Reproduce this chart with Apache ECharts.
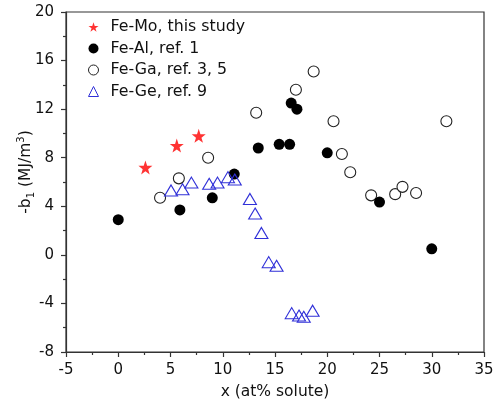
<!DOCTYPE html>
<html lang="en">
<head>
    <meta charset="UTF-8">
    <title>b1 vs solute</title>
    <script src="https://cdn.jsdelivr.net/npm/echarts@6/dist/echarts.min.js"></script>
    <style>
        html, body { margin: 0; padding: 0; background: #fff; }
        #main { width: 496px; height: 405px; }
    </style>
</head>
<body>
<div id="main"></div>
<script>
    // data: [x (at%), -b1 (MJ/m3)]
    var feMo = [[2.6, 7.2], [5.6, 9.0], [7.7, 9.8]];
    var feAl = [[0, 2.9], [5.9, 3.7], [9.0, 4.7], [11.1, 6.65], [13.4, 8.8], [15.4, 9.1],
        [16.4, 9.1], [16.55, 12.5], [17.1, 12.0], [20.0, 8.4], [25.0, 4.35], [30.0, 0.5]];
    var feGa = [[4.0, 4.7], [5.8, 6.3], [8.6, 8.0], [13.2, 11.7], [17.0, 13.6], [18.7, 15.1],
        [20.6, 11.0], [21.4, 8.3], [22.2, 6.8], [24.2, 4.9], [26.5, 5.0], [27.2, 5.6],
        [28.5, 5.1], [31.4, 11.0]];
    var feGe = [[5.05, 5.3], [6.15, 5.4], [7.0, 5.95], [8.7, 5.85], [9.5, 5.95], [10.5, 6.4],
        [11.15, 6.2], [12.6, 4.6], [13.1, 3.4], [13.7, 1.8], [14.4, -0.6], [15.15, -0.9],
        [16.6, -4.8], [17.3, -5.0], [17.75, -5.1], [18.6, -4.6]];
    var names = ['Fe-Mo, this study', 'Fe-Al, ref. 1', 'Fe-Ga, ref. 3, 5', 'Fe-Ge, ref. 9'];

    var font = 'DejaVu Sans, Arial, sans-serif';
    var chart = echarts.init(document.getElementById('main'));

    var axisCommon = {
        axisLine: { show: true, onZero: false, lineStyle: { color: '#333', width: 1.2 } },
        axisTick: { show: true, inside: false, length: 5, lineStyle: { color: '#333', width: 1.2 } },
        minorTick: { show: true, splitNumber: 2, length: 3, lineStyle: { color: '#333', width: 1.2 } },
        splitLine: { show: false },
        axisLabel: { fontFamily: font, fontSize: 15, color: '#111' },
        nameMoveOverlap: false
    };

    var option = {
        animation: false,
        backgroundColor: '#fff',
        grid: {
            left: 66, right: 12, top: 12, bottom: 53, outerBoundsMode: 'none', containLabel: false,
            show: true, borderColor: '#333', borderWidth: 1.2
        },
        legend: {
            orient: 'vertical',
            left: 83,
            top: 14,
            itemWidth: 10,
            itemHeight: 10,
            itemGap: 5.5,
            itemStyle: { borderWidth: 1 },
            textStyle: { fontFamily: font, fontSize: 15.8, color: '#111', padding: [0, 0, 0, 7] },
            data: names
        },
        xAxis: Object.assign({}, axisCommon, {
            type: 'value', min: -5, max: 35, interval: 5,
            axisLabel: Object.assign({}, axisCommon.axisLabel, { margin: 11 }),
            name: 'x (at% solute)',
            nameLocation: 'middle',
            nameGap: 32,
            nameTextStyle: { fontFamily: font, fontSize: 15.5, color: '#111' }
        }),
        yAxis: Object.assign({}, axisCommon, {
            type: 'value', min: -8, max: 20, interval: 4,
            axisLabel: Object.assign({}, axisCommon.axisLabel, { margin: 12 }),
            name: '{b|-b}{sub|1}{b| (MJ/m}{sup|3}{b|)}',
            nameLocation: 'middle',
            nameGap: 30,
            nameTextStyle: {
                padding: [0, 0, 0, 20],
                rich: {
                    b: { fontFamily: font, fontSize: 15.5, color: '#111', lineHeight: 20 },
                    sub: { fontFamily: font, fontSize: 10, color: '#111', verticalAlign: 'bottom', lineHeight: 20 },
                    sup: { fontFamily: font, fontSize: 10, color: '#111', verticalAlign: 'top', lineHeight: 20 }
                }
            }
        }),
        series: [
            {
                name: names[0], type: 'scatter', symbol: 'path://M50,0 L61.8,35.1 L98.1,35.1 L68.8,56.7 L79.4,90.5 L50,70 L20.6,90.5 L31.2,56.7 L1.9,35.1 L38.2,35.1 Z',
                symbolSize: 14, z: 5,
                itemStyle: { color: '#ff0000' },
                data: feMo
            },
            {
                name: names[1], type: 'scatter', symbol: 'circle', symbolSize: 11, z: 3,
                itemStyle: { color: '#000', opacity: 1 },
                data: feAl
            },
            {
                name: names[2], type: 'scatter', symbol: 'circle', symbolSize: 11, z: 2,
                itemStyle: { color: '#fff', borderColor: '#222', borderWidth: 1.1, opacity: 1 },
                data: feGa
            },
            {
                name: names[3], type: 'scatter', symbol: 'triangle', symbolSize: [13, 11], z: 4,
                itemStyle: { color: 'rgba(255,255,255,0)', borderColor: '#3030d8', borderWidth: 1.1, opacity: 1 },
                data: feGe
            }
        ]
    };
    chart.setOption(option);
</script>
</body>
</html>
